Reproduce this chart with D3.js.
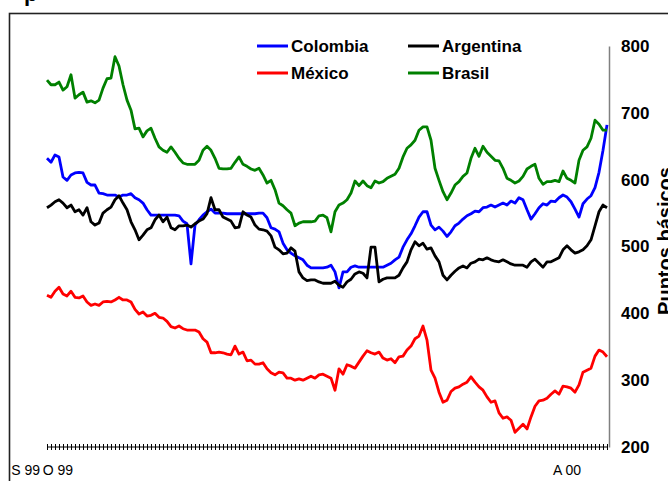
<!DOCTYPE html>
<html>
<head>
<meta charset="utf-8">
<script src="https://cdn.jsdelivr.net/npm/d3@7"></script>
<style>
    body { margin: 0; background: #fff; }
    svg { display: block; }
</style>
</head>
<body>
<svg id="chart"></svg>
<script>
// spreads in puntos básicos, one value per trading day
const colombia = [632, 626, 637, 634, 604, 599, 607, 610, 611, 610, 596, 592, 592, 580, 579, 577, 577, 577, 574, 577,
    577, 579, 573, 570, 565, 555, 547, 547, 547, 547, 547, 547, 547, 546, 538, 534, 474, 532, 540, 547,
    552, 556, 550, 550, 550, 549, 549, 549, 549, 549, 549, 549, 549, 550, 550, 543, 528, 526, 522, 505,
    495, 490, 486, 483, 480, 472, 468, 468, 468, 468, 469, 472, 462, 438, 462, 462, 469, 471, 469, 469,
    469, 469, 469, 469, 469, 472, 475, 480, 484, 499, 510, 519, 531, 544, 552, 552, 532, 525, 529, 523,
    515, 522, 531, 535, 541, 546, 549, 553, 552, 558, 559, 562, 559, 562, 565, 562, 568, 565, 573, 570,
    555, 541, 549, 558, 564, 562, 568, 567, 573, 577, 574, 567, 556, 544, 564, 571, 576, 588, 611, 644,
    682];
const argentina = [558, 562, 567, 570, 565, 558, 562, 552, 555, 547, 558, 537, 532, 535, 550, 555, 559, 570, 576, 565,
    555, 537, 525, 510, 517, 525, 528, 540, 547, 537, 544, 528, 525, 531, 531, 532, 529, 534, 538, 541,
    549, 573, 555, 555, 544, 541, 538, 528, 529, 552, 547, 544, 532, 526, 525, 523, 516, 499, 495, 489,
    490, 498, 493, 462, 453, 449, 450, 450, 447, 445, 445, 445, 448, 442, 439, 447, 451, 459, 462, 460,
    453, 499, 499, 447, 451, 453, 453, 453, 457, 468, 477, 495, 507, 501, 505, 496, 498, 486, 477, 457,
    450, 457, 463, 468, 471, 468, 475, 477, 481, 480, 483, 480, 478, 477, 480, 477, 474, 472, 472, 472,
    469, 477, 481, 475, 469, 477, 477, 480, 483, 495, 501, 495, 490, 492, 495, 501, 510, 531, 552, 562,
    558];
const mexico = [427, 424, 433, 439, 429, 426, 433, 424, 423, 426, 417, 412, 414, 412, 417, 418, 417, 420, 424, 420,
    420, 417, 406, 399, 402, 396, 397, 400, 394, 393, 388, 380, 378, 381, 377, 375, 375, 375, 372, 362,
    357, 341, 341, 342, 341, 339, 338, 351, 339, 342, 329, 330, 324, 324, 326, 317, 311, 308, 312, 311,
    303, 303, 300, 302, 300, 303, 306, 303, 308, 309, 306, 303, 285, 317, 309, 323, 321, 318, 327, 336,
    344, 341, 339, 342, 333, 330, 332, 326, 335, 336, 345, 351, 362, 366, 381, 360, 315, 303, 282, 267,
    270, 283, 288, 290, 294, 297, 305, 297, 290, 285, 275, 267, 269, 251, 243, 245, 240, 222, 228, 234,
    227, 245, 261, 269, 270, 273, 279, 284, 279, 291, 290, 288, 282, 293, 312, 315, 318, 336, 345, 342,
    335];
const brasil = [749, 742, 742, 746, 734, 739, 757, 722, 727, 731, 716, 718, 715, 719, 737, 751, 752, 784, 770, 742,
    719, 704, 676, 677, 664, 673, 677, 662, 649, 644, 641, 649, 641, 632, 625, 623, 623, 623, 629, 644,
    650, 644, 632, 617, 616, 616, 617, 626, 634, 623, 620, 616, 614, 617, 607, 595, 599, 585, 565, 561,
    555, 550, 531, 535, 537, 537, 537, 538, 546, 547, 543, 522, 552, 562, 565, 570, 580, 598, 591, 598,
    591, 588, 598, 595, 597, 602, 605, 608, 617, 634, 647, 652, 659, 674, 679, 679, 659, 617, 599, 582,
    570, 580, 592, 597, 605, 610, 632, 647, 635, 650, 641, 635, 629, 628, 617, 602, 599, 595, 598, 605,
    616, 620, 623, 602, 593, 597, 597, 599, 597, 613, 602, 599, 595, 629, 644, 649, 662, 689, 683, 674,
    674];

const yTicks = [200, 300, 400, 500, 600, 700, 800];
const xLabels = ['S 99', 'O 99', 'A 00'];
const xLabelIndex = [0, 7, 134];

const series = [
    { name: 'Colombia', values: colombia, color: '#0000ff' },
    { name: 'México', values: mexico, color: '#ff0000' },
    { name: 'Argentina', values: argentina, color: '#000000' },
    { name: 'Brasil', values: brasil, color: '#008000' }
];
const legendOrder = ['Colombia', 'Argentina', 'México', 'Brasil'];

class Chart {
    constructor(series, svg) {
        this.series = series;
        this.svg = svg
            .attr('width', this.width)
            .attr('height', this.height);

        this.x = d3.scalePoint()
            .domain(d3.range(colombia.length))
            .range([47, 607]);
        this.y = d3.scaleLinear()
            .domain([200, 800])
            .range([447, 46]);
    }

    drawFrame() {
        this.svg.append('rect')
            .attr('x', 9.5)
            .attr('y', 13.5)
            .attr('width', this.width)
            .attr('height', this.height)
            .attr('fill', 'none')
            .attr('stroke', '#222')
            .attr('stroke-width', 1.6);

        // leftover of the cut title above the frame
        this.svg.append('text')
            .attr('x', 24)
            .attr('y', 1)
            .style('font', 'bold 22px "Liberation Sans", Arial, sans-serif')
            .text('p');
    }

    drawAxes() {
        const yAxis = d3.axisRight(this.y)
            .tickValues(yTicks)
            .tickSize(0)
            .tickPadding(12);

        const gy = this.svg.append('g')
            .attr('transform', 'translate(609,0)')
            .call(yAxis);
        gy.select('.domain')
            .attr('stroke', '#808080')
            .attr('stroke-width', 1.5);
        gy.selectAll('text')
            .attr('fill', '#000')
            .style('font', 'bold 17px "Liberation Sans Narrow", "Arial Narrow", sans-serif');

        this.svg.append('text')
            .attr('transform', 'translate(672,241) rotate(-90)')
            .attr('text-anchor', 'middle')
            .style('font', 'bold 20px "Liberation Sans", Arial, sans-serif')
            .text('Puntos básicos');

        const base = this.y(200);
        const gx = this.svg.append('g');
        gx.append('line')
            .attr('x1', this.x(0))
            .attr('x2', this.x(colombia.length - 1))
            .attr('y1', base)
            .attr('y2', base)
            .attr('stroke', '#000');
        gx.selectAll('.tick')
            .data(this.x.domain())
            .enter()
            .append('line')
            .attr('class', 'tick')
            .attr('x1', d => this.x(d) + 0.5)
            .attr('x2', d => this.x(d) + 0.5)
            .attr('y1', base - 3)
            .attr('y2', base + 3)
            .attr('stroke', '#000');

        gx.selectAll('.xlabel')
            .data(xLabels)
            .enter()
            .append('text')
            .attr('class', 'xlabel')
            .attr('x', (d, i) => this.x(xLabelIndex[i]) - (i === 0 ? 7 : 2))
            .attr('y', base + 28)
            .attr('text-anchor', 'end')
            .style('font', '14px "Liberation Sans Narrow", "Arial Narrow", sans-serif')
            .text(d => d);
    }

    drawLines() {
        const line = d3.line()
            .x((d, i) => this.x(i))
            .y(d => this.y(d));

        this.svg.selectAll('.series')
            .data(this.series)
            .enter()
            .append('path')
            .attr('class', 'series')
            .attr('d', d => line(d.values))
            .attr('fill', 'none')
            .attr('stroke', d => d.color)
            .attr('stroke-width', 2.8)
            .attr('stroke-linejoin', 'round');
    }

    drawLegend() {
        const items = legendOrder.map(name => this.series.find(s => s.name === name));
        const legend = this.svg.append('g')
            .selectAll('g')
            .data(items)
            .enter()
            .append('g')
            .attr('transform', (d, i) => `translate(${257 + (i % 2) * 151},${46 + Math.floor(i / 2) * 27})`);

        legend.append('line')
            .attr('x1', 0)
            .attr('x2', 31)
            .attr('stroke', d => d.color)
            .attr('stroke-width', 3);

        legend.append('text')
            .attr('x', 34)
            .attr('y', 6)
            .style('font', 'bold 17px "Liberation Sans Narrow", "Arial Narrow", sans-serif')
            .text(d => d.name);
    }

    get width() {
        return 668;
    }

    get height() {
        return 481;
    }
}

const chart = new Chart(series, d3.select('#chart'));
chart.drawFrame();
chart.drawAxes();
chart.drawLines();
chart.drawLegend();
</script>
</body>
</html>
